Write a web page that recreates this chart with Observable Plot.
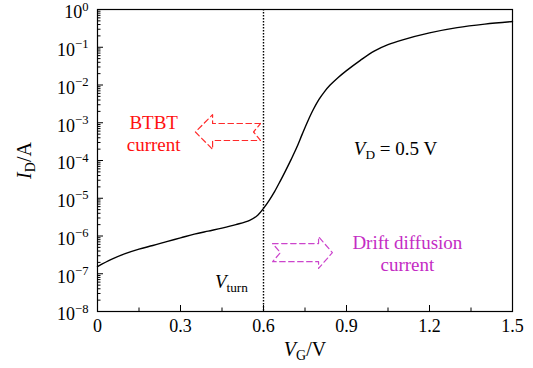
<!DOCTYPE html>
<html><head><meta charset="utf-8">
<script src="https://cdn.jsdelivr.net/npm/d3@7"></script>
<script src="https://cdn.jsdelivr.net/npm/@observablehq/plot@0.6"></script>
<style>
body{margin:0;background:#fff}
svg{display:block}
svg, svg text, svg tspan{font-family:'Liberation Serif','DejaVu Serif',serif !important}
</style>
</head><body><div id="chart"></div>
<script>
// Transfer characteristic I_D(V_G)
const VG = [0, 0.05, 0.1, 0.15, 0.2, 0.25, 0.3, 0.35, 0.4, 0.45, 0.5, 0.55, 0.58, 0.6, 0.62, 0.64, 0.66, 0.68, 0.7, 0.72, 0.74, 0.76, 0.78, 0.8, 0.82, 0.84, 0.87, 0.9, 0.95, 1.0, 1.05, 1.1, 1.2, 1.3, 1.4, 1.5];
const ID = [1.55e-7, 2.4e-7, 3.4e-7, 4.5e-7, 5.6e-7, 7.1e-7, 8.9e-7, 1.12e-6, 1.35e-6, 1.62e-6, 2.0e-6, 2.6e-6, 3.6e-6, 5.4e-6, 8.7e-6, 1.5e-5, 2.8e-5, 5.4e-5, 1.07e-4, 2.2e-4, 5.0e-4, 1.1e-3, 2.24e-3, 4.1e-3, 6.6e-3, 9.8e-3, 1.58e-2, 2.4e-2, 4.5e-2, 7.9e-2, 0.117, 0.155, 0.24, 0.33, 0.41, 0.48];

// Axis ticks
const xMajor = [0, 0.3, 0.6, 0.9, 1.2, 1.5];
const xMinor = [0.15, 0.45, 0.75, 1.05, 1.35];
const yExponents = [-8, -7, -6, -5, -4, -3, -2, -1, 0];
const yMantissas = [2, 3, 4, 5, 6, 7, 8, 9];

// Turn-on voltage
const Vturn = [0.6];

// Annotation texts (markup: $..$ italic, _{..} subscript, ^{..} superscript)
const labelTexts = ["BTBT\ncurrent", "Drift diffusion\ncurrent", "$V$_{D} = 0.5 V", "$V$_{turn}"];
const labelX = [0.203, 1.12, 1.077, 0.484];
const labelY = [10 ** -3.28, 10 ** -6.45, 10 ** -3.66, 10 ** -7.18];
const labelColor = ["#ff1010", "#c42cc4", "black", "black"];

// Block arrows (data units): tail x, tip x, centre (decade), half-heights (decades), head length, notch depth
const arrowName = ["BTBT", "Drift"];
const arrowTail = [0.589, 0.633];
const arrowTip = [0.354, 0.849];
const arrowMid = [-3.245, -6.44];
const arrowBody = [0.225, 0.24];
const arrowHead = [0.46, 0.42];
const arrowHeadLen = [0.062, 0.05];
const arrowNotch = [0.025, 0.028];
const arrowColor = ["#ff2a2a", "#cc44cc"];

const curve = VG.map((v, i) => ({x: v, y: ID[i]}));
const yMajor = yExponents.map(e => Math.pow(10, e));
const yMinor = yExponents.slice(0, -1).flatMap(e => yMantissas.map(m => m * Math.pow(10, e)));
const labels = labelTexts.map((t, i) => ({t, x: labelX[i], y: labelY[i], c: labelColor[i]}));

function arrowPoly(i) {
  const t = arrowTail[i], p = arrowTip[i], c = arrowMid[i];
  const dir = Math.sign(p - t), hb = p - dir * arrowHeadLen[i];
  const b = arrowBody[i], h = arrowHead[i];
  const pts = [[t, c + b], [hb, c + b], [hb, c + h], [p, c], [hb, c - h], [hb, c - b], [t, c - b], [t + dir * arrowNotch[i], c], [t, c + b]];
  return pts.map(([x, y]) => ({x, y: Math.pow(10, y)}));
}

const sup = e => "10^{" + (e < 0 ? "\u2212" + (-e) : e) + "}";
const FONT = "'Liberation Serif', 'DejaVu Serif', serif";

const chart = Plot.plot({
  width: 533, height: 368,
  marginLeft: 97, marginRight: 21, marginTop: 9, marginBottom: 57,
  style: `font-family: ${FONT}; background: white; color: black;`,
  x: {domain: [0, 1.5]},
  y: {type: "log", domain: [1e-8, 1]},
  marks: [
    Plot.axisX({ticks: xMajor, tickSize: -6, tickFormat: () => "", label: null}),
    Plot.axisX({ticks: xMinor, tickSize: -3.5, tickFormat: () => "", label: null}),
    Plot.axisX({ticks: xMajor, tickSize: 0, tickPadding: 8, fontSize: 18, tickFormat: d => String(d), label: null}),
    Plot.axisY({ticks: yMajor, tickSize: -6, tickFormat: () => "", label: null}),
    Plot.axisY({ticks: yMinor, tickSize: -3.5, tickFormat: () => "", label: null}),
    Plot.axisY({ticks: yMajor, tickSize: 0, tickPadding: 9, dy: 3, fontSize: 18, tickFormat: d => sup(Math.round(Math.log10(d))), label: null}),
    Plot.ruleX(Vturn, {stroke: "black", strokeWidth: 1.4, strokeDasharray: "1.5,1.5"}),
    Plot.line(curve, {x: "x", y: "y", curve: "catmull-rom", stroke: "black", strokeWidth: 1.4}),
    Plot.line(arrowPoly(0), {x: "x", y: "y", stroke: arrowColor[0], strokeWidth: 1.2, strokeDasharray: "5.5,3.5"}),
    Plot.line(arrowPoly(1), {x: "x", y: "y", stroke: arrowColor[1], strokeWidth: 1.2, strokeDasharray: "5.5,3.5"}),
    Plot.text(labels, {x: "x", y: "y", text: "t", fill: "c", fontSize: 19, lineHeight: 1.15, textAnchor: "middle"}),
    Plot.text([0], {frameAnchor: "left", dx: -73, rotate: -90, text: () => "$I$_{D}/A", fontSize: 20, textAnchor: "middle"}),
    Plot.text([0], {frameAnchor: "bottom", dy: 44, text: () => "$V$_{G}/V", fontSize: 20, textAnchor: "middle"}),
    Plot.frame({stroke: "black", strokeWidth: 1.2})
  ]
});
document.getElementById("chart").append(chart);

function rich(el) {
  const s = el.textContent;
  if (!/[\$_^]/.test(s) || el.querySelector("tspan")) return;
  const fs = parseFloat(getComputedStyle(el).fontSize);
  while (el.firstChild) el.removeChild(el.firstChild);
  let off = 0;
  const re = /\$([^$]+)\$|_\{([^}]*)\}|\^\{([^}]*)\}|([^$_^]+)/g;
  let m;
  while ((m = re.exec(s))) {
    const t = document.createElementNS("http://www.w3.org/2000/svg", "tspan");
    let target = 0, size = fs, italic = false, txt;
    if (m[1] !== undefined) { txt = m[1]; italic = true; }
    else if (m[2] !== undefined) { txt = m[2]; target = 0.22 * fs; size = 0.7 * fs; }
    else if (m[3] !== undefined) { txt = m[3]; target = -0.42 * fs; size = 0.7 * fs; }
    else txt = m[4];
    t.textContent = txt;
    t.setAttribute("dy", target - off); off = target;
    t.setAttribute("font-size", size);
    if (italic) t.setAttribute("font-style", "italic");
    el.appendChild(t);
  }
}
d3.select(chart).selectAll("text").each(function () { rich(this); });
</script>
</body></html>
